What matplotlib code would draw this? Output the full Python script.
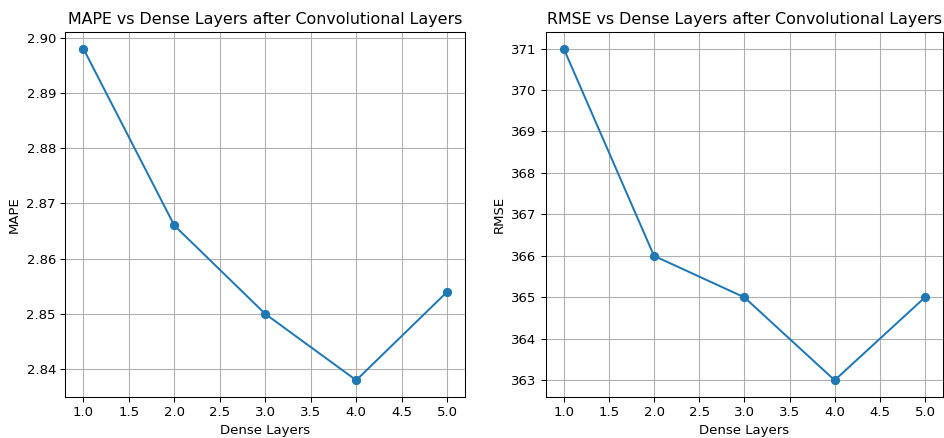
import matplotlib
matplotlib.use("Agg")
import matplotlib.pyplot as plt

layers = [1, 2, 3, 4, 5]
mape = [2.898, 2.866, 2.850, 2.838, 2.854]
rmse = [371, 366, 365, 363, 365]

fig = plt.figure(figsize=(944 / 95, 438 / 95), dpi=95)
ax1 = fig.add_axes([0.069, 0.094, 0.424, 0.833])
ax2 = fig.add_axes([0.578, 0.094, 0.421, 0.833])

ax1.plot(layers, mape, marker="o")
ax1.set_title("MAPE vs Dense Layers after Convolutional Layers")
ax1.set_xlabel("Dense Layers")
ax1.set_ylabel("MAPE")
ax1.grid(True)

ax2.plot(layers, rmse, marker="o")
ax2.set_title("RMSE vs Dense Layers after Convolutional Layers")
ax2.set_xlabel("Dense Layers")
ax2.set_ylabel("RMSE")
ax2.grid(True)

fig.savefig("out.png", dpi=95)
